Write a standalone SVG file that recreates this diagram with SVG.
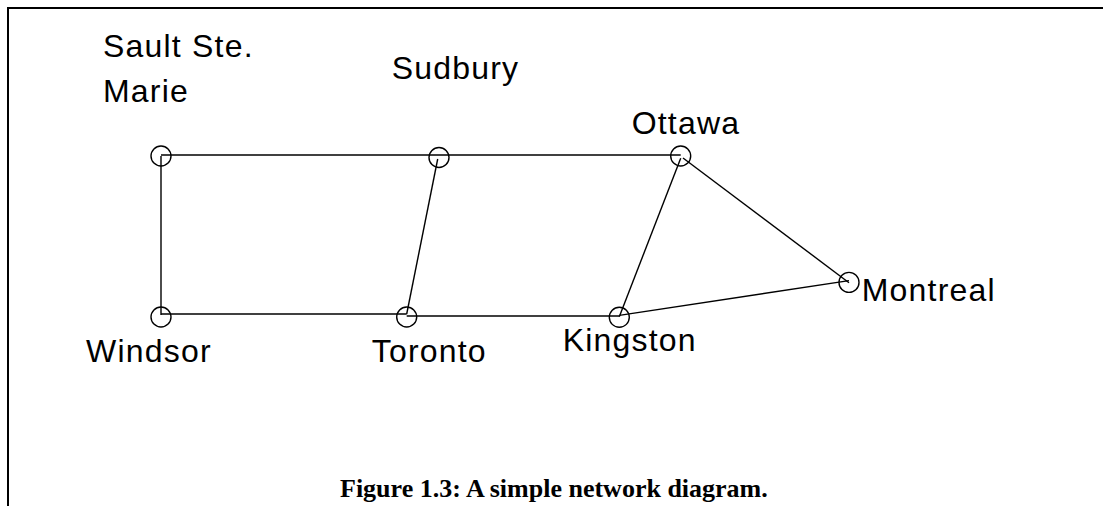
<svg xmlns="http://www.w3.org/2000/svg" width="1103" height="506" viewBox="0 0 1103 506">
<style>
.lbl{font-family:"Liberation Sans",Arial,sans-serif;font-size:32px;letter-spacing:1.2px;fill:#000}
.cap{font-family:"Liberation Serif","Times New Roman",serif;font-size:26px;font-weight:bold;fill:#000}
.node circle{fill:none;stroke:#000;stroke-width:1.4}
.edges line{stroke:#000;stroke-width:1.4}
.frame{stroke:#000;stroke-width:2;fill:none}
</style>
<rect width="1103" height="506" fill="#fff"/>
<g id="frame">
<line class="frame" x1="7" y1="8" x2="1103" y2="8"/>
<line class="frame" x1="8" y1="7" x2="8" y2="506"/>
</g>
<g id="connectors" class="edges">
<line x1="161" y1="155" x2="680.7" y2="155"/>
<line x1="161" y1="156" x2="161" y2="315"/>
<line x1="437.7" y1="159" x2="406.7" y2="314"/>
<line x1="161" y1="314" x2="406.7" y2="314"/>
<line x1="406.7" y1="316" x2="619.3" y2="316"/>
<line x1="680.7" y1="158.3" x2="619.3" y2="316.7"/>
<line x1="683" y1="158" x2="849" y2="282.7"/>
<line x1="619.3" y1="315.4" x2="849" y2="280.6"/>
</g>
<g id="sault" class="node">
<circle cx="161" cy="156" r="10"/>
<text class="lbl" x="103" y="57.3">Sault Ste.</text>
<text class="lbl" x="103" y="101.7">Marie</text>
</g>
<g id="sudbury" class="node">
<circle cx="439" cy="157.5" r="10"/>
<text class="lbl" x="391.7" y="79.3">Sudbury</text>
</g>
<g id="ottawa" class="node">
<circle cx="680.7" cy="156" r="10"/>
<text class="lbl" x="631.7" y="133.5">Ottawa</text>
</g>
<g id="windsor" class="node">
<circle cx="161" cy="317" r="10"/>
<text class="lbl" x="86" y="361.7">Windsor</text>
</g>
<g id="toronto" class="node">
<circle cx="406.7" cy="317" r="10"/>
<text class="lbl" x="371.7" y="361.7">Toronto</text>
</g>
<g id="kingston" class="node">
<circle cx="619.3" cy="317.3" r="10"/>
<text class="lbl" x="562.7" y="351">Kingston</text>
</g>
<g id="montreal" class="node">
<circle cx="849" cy="282.4" r="10"/>
<text class="lbl" x="861.7" y="300.7">Montreal</text>
</g>
<text class="cap" x="340" y="497">Figure 1.3: A simple network diagram.</text>
</svg>
